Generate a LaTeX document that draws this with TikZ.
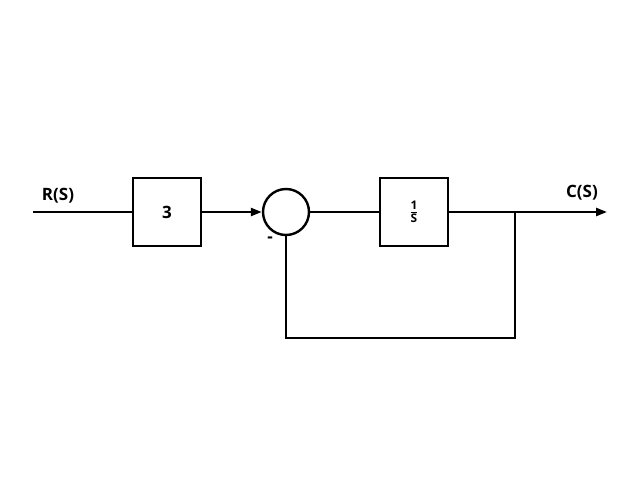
\documentclass[tikz,border=0pt]{standalone}
\usepackage{fontspec}
\setmainfont{Open Sans}
\usetikzlibrary{arrows.meta}
\begin{document}
\begin{tikzpicture}[x=1pt,y=-1pt,line width=2.4pt,
  blk/.style={draw,minimum width=68pt,minimum height=68pt,inner sep=0pt,font=\bfseries\fontsize{17}{18}\selectfont},
  lbl/.style={font=\bfseries\fontsize{17}{18}\selectfont},
  arr/.style={-{Triangle[length=11pt,width=8pt]}}]
\useasboundingbox (0,0) rectangle (623,495);
\coordinate (in) at (33,212);
\node[blk] (g1) at (167,212) {3};
\node[draw,circle,minimum size=46pt,inner sep=0pt] (sum) at (286,212) {};
\node[blk] (g2) at (414,212) {$\frac{\mathbf 1}{\mathbf S}$};
\coordinate (br) at (515,212);
\coordinate (out) at (607,212);
\coordinate (c1) at (515,338);
\coordinate (c2) at (286,338);
\draw (in) -- (g1.west);
\draw[arr] (g1.east) -- (sum.west);
\draw (sum.east) -- (g2.west);
\draw[arr] (g2.east) -- (out);
\draw (br) -- (c1) -- (c2) -- (sum.south);
\node[lbl] (r) at (58,196) {R(S)};
\node[lbl] (c) at (582,193) {C(S)};
\node[lbl] (m) at (270,240) {-};
\end{tikzpicture}
\end{document}
